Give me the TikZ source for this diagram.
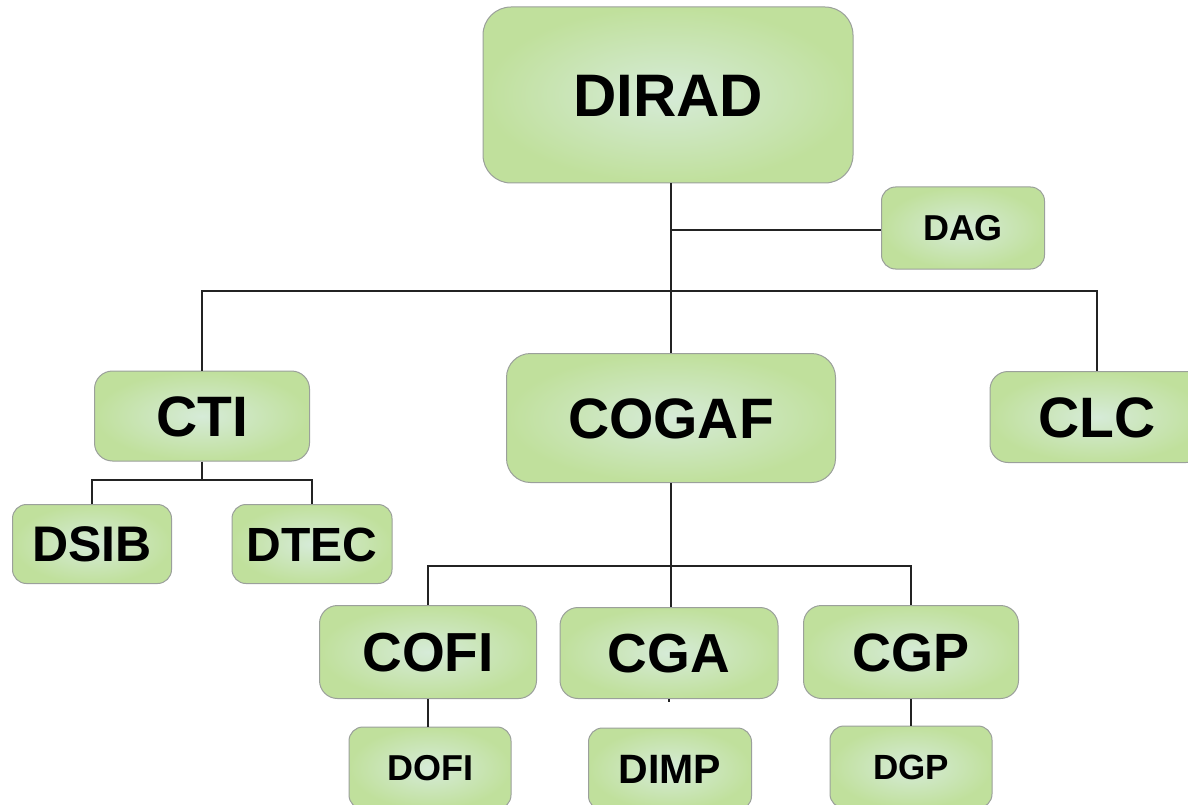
\documentclass[tikz,border=0pt]{standalone}
\usepackage{fontspec}
\setmainfont{Liberation Sans}
\definecolor{boxin}{RGB}{214,235,216}
\definecolor{boxout}{RGB}{192,224,156}
\definecolor{boxline}{RGB}{155,160,155}
\definecolor{conn}{RGB}{35,35,35}
\tikzset{
  orgbox/.style 2 args={draw=boxline, line width=1pt, rounded corners=#1,
    inner color=boxin, outer color=boxout, inner sep=0pt,
    font=\bfseries\fontsize{#2}{#2}\selectfont,
    text height={0.716*#2pt}, text depth=0pt},
  conline/.style={draw=conn, line width=2pt}
}
\begin{document}
\begin{tikzpicture}[x=1pt,y=-1pt]
\clip (0,0) rectangle (1188,805);
\fill[white] (0,0) rectangle (1188,805);
% nodes
\node[orgbox={28pt}{60}, minimum width=370pt, minimum height=176pt] (dirad) at (668,95) {DIRAD};
\node[orgbox={14pt}{36}, minimum width=163pt, minimum height=82pt] (dag) at (963,228) {DAG};
\node[orgbox={18pt}{57}, minimum width=215pt, minimum height=90pt] (cti) at (202,416) {CTI};
\node[orgbox={24pt}{57}, minimum width=329pt, minimum height=129pt] (cogaf) at (671,418) {COGAF};
\node[orgbox={18pt}{57}, minimum width=214pt, minimum height=91pt] (clc) at (1097,417) {CLC};
\node[orgbox={14pt}{50}, minimum width=159pt, minimum height=79pt] (dsib) at (92,544) {DSIB};
\node[orgbox={14pt}{48}, minimum width=160pt, minimum height=79pt] (dtec) at (312,544) {DTEC};
\node[orgbox={18pt}{55}, minimum width=217pt, minimum height=93pt] (cofi) at (428,652) {COFI};
\node[orgbox={18pt}{55}, minimum width=218pt, minimum height=91pt] (cga) at (669,653) {CGA};
\node[orgbox={18pt}{54}, minimum width=215pt, minimum height=93pt] (cgp) at (911,652) {CGP};
\node[orgbox={14pt}{36}, minimum width=162pt, minimum height=82pt] (dofi) at (430,768) {DOFI};
\node[orgbox={14pt}{41}, minimum width=163pt, minimum height=82pt] (dimp) at (670,769) {DIMP};
\node[orgbox={14pt}{35}, minimum width=162pt, minimum height=82pt] (dgp) at (911,767) {DGP};
% junctions
\coordinate (jtop) at (671,291);
\coordinate (jdag) at (671,230);
\coordinate (jcti) at (202,480);
\coordinate (jcog) at (671,566);
\coordinate (cgastub) at (669,702);
% connectors
\draw[conline] (dirad.south -| cogaf.north) -- (cogaf.north);
\draw[conline] (jdag) -- (jdag -| dag.west);
\draw[conline] (cti.north) |- (jtop) -| (clc.north);
\draw[conline] (cti.south) -- (jcti);
\draw[conline] (dsib.north) |- (jcti) -| (dtec.north);
\draw[conline] (cogaf.south) -- (jcog);
\draw[conline] (cofi.north) |- (jcog) -| (cgp.north);
\draw[conline] (jcog) -- (cga.north -| jcog);
\draw[conline] (cofi.south) -- (cofi.south |- dofi.north);
\draw[conline] (cgp.south) -- (cgp.south |- dgp.north);
\draw[conline] (cga.south) -- (cgastub);
\end{tikzpicture}
\end{document}
